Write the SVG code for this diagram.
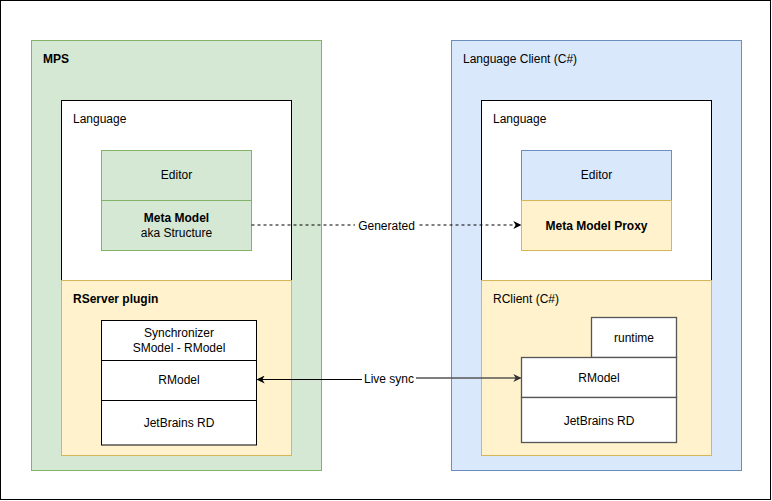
<svg xmlns="http://www.w3.org/2000/svg" width="772" height="501" viewBox="0 0 772 501">
<style>
text{font-family:"Liberation Sans",Arial,sans-serif;font-size:12px;fill:#000}
.c{text-anchor:middle}
.b{font-weight:bold}
.green{fill:#d5e8d4;stroke:#82b366}
.blue{fill:#dae8fc;stroke:#6c8ebf}
.yellow{fill:#fff2cc;stroke:#d6b656}
.white{fill:#fff;stroke:#000}
.gray{fill:#fff;stroke:#555;stroke-width:1.3}
</style>
<defs>
<marker id="arr" viewBox="0 0 10 10" refX="9" refY="5" markerWidth="8" markerHeight="8" markerUnits="userSpaceOnUse" orient="auto">
<path d="M0,0 L10,5 L0,10 L3,5 Z" fill="#000"/>
</marker>
<marker id="arrg" viewBox="0 0 10 10" refX="9" refY="5" markerWidth="8" markerHeight="8" markerUnits="userSpaceOnUse" orient="auto">
<path d="M0,0 L10,5 L0,10 L3,5 Z" fill="#333"/>
</marker>
</defs>
<rect x="0.5" y="0.5" width="770" height="499" fill="#fff" stroke="#000"/>
<g id="mps">
<rect class="green" x="31.5" y="40.5" width="290" height="430"/>
<text class="b" x="43" y="63">MPS</text>
</g>
<g id="language-left">
<rect class="white" x="61.5" y="100.5" width="230" height="180"/>
<text x="73" y="123">Language</text>
</g>
<g id="rserver">
<rect class="yellow" x="61.5" y="280.5" width="230" height="175"/>
<text class="b" x="73" y="303">RServer plugin</text>
</g>
<g id="editor-left">
<rect class="green" x="101.5" y="150.5" width="150" height="50"/>
<text class="c" x="176.5" y="179">Editor</text>
</g>
<g id="metamodel">
<rect class="green" x="101.5" y="200.5" width="150" height="50"/>
<text class="c b" x="176.5" y="222">Meta Model</text>
<text class="c" x="176.5" y="237">aka Structure</text>
</g>
<g id="synchronizer">
<rect class="white" x="101.5" y="320.5" width="155" height="40"/>
<text class="c" x="179" y="336.5">Synchronizer</text>
<text class="c" x="179" y="351.5">SModel - RModel</text>
</g>
<g id="rmodel-left">
<rect class="white" x="101.5" y="360.5" width="155" height="40"/>
<text class="c" x="179" y="384">RModel</text>
</g>
<g id="jetbrains-left">
<rect class="white" x="101.5" y="400.5" width="155" height="44.5"/>
<text class="c" x="179" y="427">JetBrains RD</text>
</g>
<g id="client">
<rect class="blue" x="451.5" y="40.5" width="290" height="430"/>
<text x="463" y="63">Language Client (C#)</text>
</g>
<g id="language-right">
<rect class="white" x="481.5" y="100.5" width="230" height="180"/>
<text x="493" y="123">Language</text>
</g>
<g id="rclient">
<rect class="yellow" x="481.5" y="280.5" width="230" height="175"/>
<text x="493" y="303">RClient (C#)</text>
</g>
<g id="editor-right">
<rect class="blue" x="521.5" y="150.5" width="150" height="50"/>
<text class="c" x="596.5" y="179">Editor</text>
</g>
<g id="proxy">
<rect class="yellow" x="521.5" y="200.5" width="150" height="50"/>
<text class="c b" x="596.5" y="229.5">Meta Model Proxy</text>
</g>
<g id="runtime">
<rect class="gray" x="591.5" y="317.5" width="85" height="40"/>
<text class="c" x="634" y="342">runtime</text>
</g>
<g id="rmodel-right">
<rect class="gray" x="521.5" y="357.5" width="155" height="40"/>
<text class="c" x="599" y="382">RModel</text>
</g>
<g id="jetbrains-right">
<rect class="gray" x="521.5" y="397.5" width="155" height="45"/>
<text class="c" x="599" y="424.5">JetBrains RD</text>
</g>
<g id="connectors">
<line x1="251.5" y1="225" x2="520.5" y2="225" stroke="#000" stroke-dasharray="3 3" marker-end="url(#arr)"/>
<rect x="355" y="218" width="63" height="14" fill="#fff"/>
<text class="c" x="386.5" y="229.5">Generated</text>
<line x1="362" y1="379.5" x2="257.5" y2="379.5" stroke="#000" marker-end="url(#arr)"/>
<line x1="416" y1="378" x2="520.5" y2="378" stroke="#555" stroke-width="1.3" marker-end="url(#arrg)"/>
<text class="c" x="389" y="383">Live sync</text>
</g>
</svg>
